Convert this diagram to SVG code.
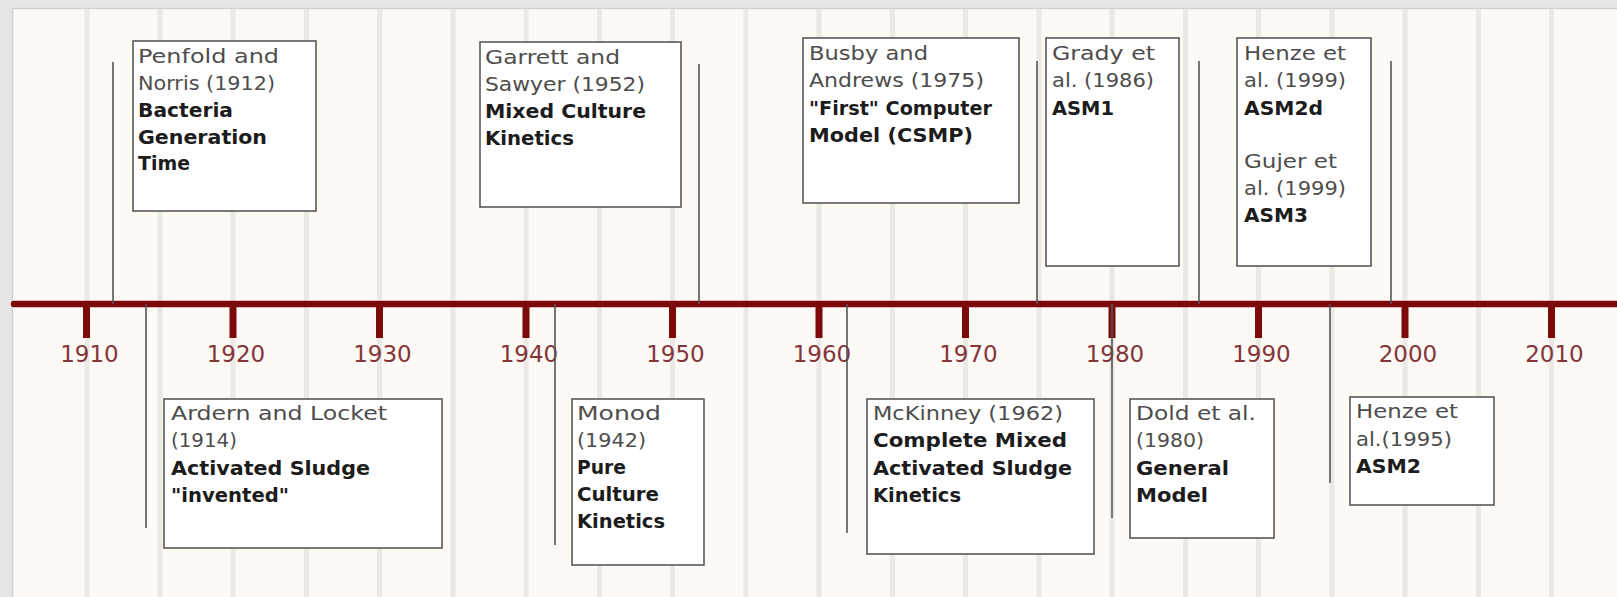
<svg xmlns="http://www.w3.org/2000/svg" width="1617" height="597" viewBox="0 0 1617 597">
<style>
.stripe{fill:#ece8e3}
.tick{fill:#7c0a0a}
.year{font-family:"DejaVu Sans",sans-serif;font-size:23px;fill:#83353a;text-anchor:middle}
.box{fill:#ffffff;stroke:#595959;stroke-width:1.6}
.reg{font-family:"DejaVu Sans",sans-serif;font-size:20px;fill:#4d4d4d}
.bold{font-family:"DejaVu Sans",sans-serif;font-size:19px;font-weight:bold;fill:#1c1c1c}
.conn{stroke:#555555;stroke-width:1.6;fill:none}
</style>
<rect x="0" y="0" width="1617" height="597" fill="#e6e6e6"/>
<rect x="12.5" y="8.5" width="1610" height="600" fill="#fdfaf6" stroke="#d2d2d2" stroke-width="1.5"/>
<g id="stripes">
<rect class="stripe" x="84.5" y="9" width="5" height="588"/>
<rect class="stripe" x="157.5" y="9" width="5" height="588"/>
<rect class="stripe" x="230.5" y="9" width="5" height="588"/>
<rect class="stripe" x="304" y="9" width="5" height="588"/>
<rect class="stripe" x="377" y="9" width="5" height="588"/>
<rect class="stripe" x="450.5" y="9" width="5" height="588"/>
<rect class="stripe" x="523.5" y="9" width="5" height="588"/>
<rect class="stripe" x="597" y="9" width="5" height="588"/>
<rect class="stripe" x="670" y="9" width="5" height="588"/>
<rect class="stripe" x="743.5" y="9" width="5" height="588"/>
<rect class="stripe" x="816.5" y="9" width="5" height="588"/>
<rect class="stripe" x="890" y="9" width="5" height="588"/>
<rect class="stripe" x="963" y="9" width="5" height="588"/>
<rect class="stripe" x="1036.5" y="9" width="5" height="588"/>
<rect class="stripe" x="1109.5" y="9" width="5" height="588"/>
<rect class="stripe" x="1183" y="9" width="5" height="588"/>
<rect class="stripe" x="1256" y="9" width="5" height="588"/>
<rect class="stripe" x="1329.5" y="9" width="5" height="588"/>
<rect class="stripe" x="1402.5" y="9" width="5" height="588"/>
<rect class="stripe" x="1476" y="9" width="5" height="588"/>
<rect class="stripe" x="1549" y="9" width="5" height="588"/>
</g>
<g id="axis">
<line x1="14" y1="304" x2="1617" y2="304" stroke="#7c0a0a" stroke-width="6.5" stroke-linecap="round"/>
<rect class="tick" x="83" y="304" width="7" height="34"/>
<rect class="tick" x="229.5" y="304" width="7" height="34"/>
<rect class="tick" x="376" y="304" width="7" height="34"/>
<rect class="tick" x="522.5" y="304" width="7" height="34"/>
<rect class="tick" x="669" y="304" width="7" height="34"/>
<rect class="tick" x="815.5" y="304" width="7" height="34"/>
<rect class="tick" x="962" y="304" width="7" height="34"/>
<rect class="tick" x="1108.5" y="304" width="7" height="34"/>
<rect class="tick" x="1255" y="304" width="7" height="34"/>
<rect class="tick" x="1401.5" y="304" width="7" height="34"/>
<rect class="tick" x="1548" y="304" width="7" height="34"/>
<text class="year" x="89.5" y="362">1910</text>
<text class="year" x="236" y="362">1920</text>
<text class="year" x="382.5" y="362">1930</text>
<text class="year" x="529" y="362">1940</text>
<text class="year" x="675.5" y="362">1950</text>
<text class="year" x="822" y="362">1960</text>
<text class="year" x="968.5" y="362">1970</text>
<text class="year" x="1115" y="362">1980</text>
<text class="year" x="1261.5" y="362">1990</text>
<text class="year" x="1408" y="362">2000</text>
<text class="year" x="1554.5" y="362">2010</text>
</g>
<g id="connectors">
<line class="conn" x1="113" y1="62" x2="113" y2="304"/>
<line class="conn" x1="146" y1="304" x2="146" y2="528"/>
<line class="conn" x1="555" y1="304" x2="555" y2="545"/>
<line class="conn" x1="699" y1="64" x2="699" y2="304"/>
<line class="conn" x1="847" y1="304" x2="847" y2="533"/>
<line class="conn" x1="1037" y1="61" x2="1037" y2="304"/>
<line class="conn" x1="1112" y1="304" x2="1112" y2="518"/>
<line class="conn" x1="1199" y1="61" x2="1199" y2="304"/>
<line class="conn" x1="1330" y1="304" x2="1330" y2="483"/>
<line class="conn" x1="1391" y1="61" x2="1391" y2="304"/>
</g>
<g id="penfold">
<rect class="box" x="133" y="41" width="183" height="170"/>
<text class="reg" x="138" y="63" textLength="141" lengthAdjust="spacingAndGlyphs">Penfold and</text>
<text class="reg" x="138" y="90" textLength="137" lengthAdjust="spacingAndGlyphs">Norris (1912)</text>
<text class="bold" x="138" y="117" textLength="95" lengthAdjust="spacingAndGlyphs">Bacteria</text>
<text class="bold" x="138" y="144" textLength="129" lengthAdjust="spacingAndGlyphs">Generation</text>
<text class="bold" x="138" y="170" textLength="52" lengthAdjust="spacingAndGlyphs">Time</text>
</g>
<g id="garrett">
<rect class="box" x="480" y="42" width="201" height="165"/>
<text class="reg" x="485" y="64" textLength="135" lengthAdjust="spacingAndGlyphs">Garrett and</text>
<text class="reg" x="485" y="91" textLength="160" lengthAdjust="spacingAndGlyphs">Sawyer (1952)</text>
<text class="bold" x="485" y="118" textLength="161" lengthAdjust="spacingAndGlyphs">Mixed Culture</text>
<text class="bold" x="485" y="145" textLength="89" lengthAdjust="spacingAndGlyphs">Kinetics</text>
</g>
<g id="busby">
<rect class="box" x="803" y="38" width="216" height="165"/>
<text class="reg" x="809" y="60" textLength="119" lengthAdjust="spacingAndGlyphs">Busby and</text>
<text class="reg" x="809" y="87" textLength="175" lengthAdjust="spacingAndGlyphs">Andrews (1975)</text>
<text class="bold" x="809" y="115" textLength="183" lengthAdjust="spacingAndGlyphs">"First" Computer</text>
<text class="bold" x="809" y="142" textLength="164" lengthAdjust="spacingAndGlyphs">Model (CSMP)</text>
</g>
<g id="grady">
<rect class="box" x="1046" y="38" width="133" height="228"/>
<text class="reg" x="1052" y="60" textLength="103" lengthAdjust="spacingAndGlyphs">Grady et</text>
<text class="reg" x="1052" y="87" textLength="102" lengthAdjust="spacingAndGlyphs">al. (1986)</text>
<text class="bold" x="1052" y="115" textLength="62" lengthAdjust="spacingAndGlyphs">ASM1</text>
</g>
<g id="henze1999">
<rect class="box" x="1237" y="38" width="134" height="228"/>
<text class="reg" x="1244" y="60" textLength="102" lengthAdjust="spacingAndGlyphs">Henze et</text>
<text class="reg" x="1244" y="87" textLength="102" lengthAdjust="spacingAndGlyphs">al. (1999)</text>
<text class="bold" x="1244" y="115" textLength="79" lengthAdjust="spacingAndGlyphs">ASM2d</text>
<text class="reg" x="1244" y="168" textLength="93" lengthAdjust="spacingAndGlyphs">Gujer et</text>
<text class="reg" x="1244" y="195" textLength="102" lengthAdjust="spacingAndGlyphs">al. (1999)</text>
<text class="bold" x="1244" y="222" textLength="64" lengthAdjust="spacingAndGlyphs">ASM3</text>
</g>
<g id="ardern">
<rect class="box" x="164" y="399" width="278" height="149"/>
<text class="reg" x="171" y="420" textLength="216" lengthAdjust="spacingAndGlyphs">Ardern and Locket</text>
<text class="reg" x="171" y="447" textLength="66" lengthAdjust="spacingAndGlyphs">(1914)</text>
<text class="bold" x="171" y="475" textLength="199" lengthAdjust="spacingAndGlyphs">Activated Sludge</text>
<text class="bold" x="171" y="502" textLength="118" lengthAdjust="spacingAndGlyphs">"invented"</text>
</g>
<g id="monod">
<rect class="box" x="572" y="399" width="132" height="166"/>
<text class="reg" x="577" y="420" textLength="84" lengthAdjust="spacingAndGlyphs">Monod</text>
<text class="reg" x="577" y="447" textLength="69" lengthAdjust="spacingAndGlyphs">(1942)</text>
<text class="bold" x="577" y="474" textLength="49" lengthAdjust="spacingAndGlyphs">Pure</text>
<text class="bold" x="577" y="501" textLength="82" lengthAdjust="spacingAndGlyphs">Culture</text>
<text class="bold" x="577" y="528" textLength="88" lengthAdjust="spacingAndGlyphs">Kinetics</text>
</g>
<g id="mckinney">
<rect class="box" x="867" y="399" width="227" height="155"/>
<text class="reg" x="873" y="420" textLength="190" lengthAdjust="spacingAndGlyphs">McKinney (1962)</text>
<text class="bold" x="873" y="447" textLength="194" lengthAdjust="spacingAndGlyphs">Complete Mixed</text>
<text class="bold" x="873" y="475" textLength="199" lengthAdjust="spacingAndGlyphs">Activated Sludge</text>
<text class="bold" x="873" y="502" textLength="88" lengthAdjust="spacingAndGlyphs">Kinetics</text>
</g>
<g id="dold">
<rect class="box" x="1130" y="399" width="144" height="139"/>
<text class="reg" x="1136" y="420" textLength="120" lengthAdjust="spacingAndGlyphs">Dold et al.</text>
<text class="reg" x="1136" y="447" textLength="68" lengthAdjust="spacingAndGlyphs">(1980)</text>
<text class="bold" x="1136" y="475" textLength="93" lengthAdjust="spacingAndGlyphs">General</text>
<text class="bold" x="1136" y="502" textLength="72" lengthAdjust="spacingAndGlyphs">Model</text>
</g>
<g id="henze1995">
<rect class="box" x="1350" y="397" width="144" height="108"/>
<text class="reg" x="1356" y="418" textLength="102" lengthAdjust="spacingAndGlyphs">Henze et</text>
<text class="reg" x="1356" y="446" textLength="96" lengthAdjust="spacingAndGlyphs">al.(1995)</text>
<text class="bold" x="1356" y="473" textLength="65" lengthAdjust="spacingAndGlyphs">ASM2</text>
</g>
</svg>
